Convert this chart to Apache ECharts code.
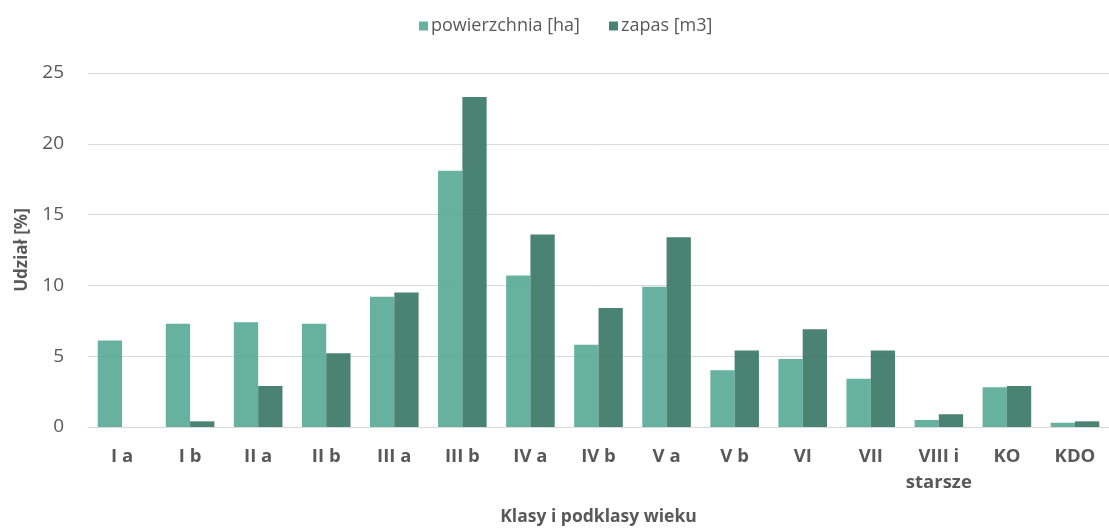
<!DOCTYPE html>
<html>
<head>
<meta charset="utf-8">
<script src="https://cdn.jsdelivr.net/npm/echarts@6/dist/echarts.min.js"></script>
<style>
  html, body { margin: 0; padding: 0; background: #fff; }
  #chart { width: 1109px; height: 531px; }
</style>
</head>
<body>
<div id="chart"></div>
<script>
  // klasy i podklasy wieku
  var categories = ['I a', 'I b', 'II a', 'II b', 'III a', 'III b', 'IV a', 'IV b', 'V a', 'V b', 'VI', 'VII', 'VIII i\nstarsze', 'KO', 'KDO'];
  var powierzchnia = [6.1, 7.3, 7.4, 7.3, 9.2, 18.1, 10.7, 5.8, 9.9, 4.0, 4.8, 3.4, 0.5, 2.8, 0.3];
  var zapas = [0, 0.4, 2.9, 5.2, 9.5, 23.3, 13.6, 8.4, 13.4, 5.4, 6.9, 5.4, 0.9, 2.9, 0.4];
  var yTicks = [0, 5, 10, 15, 20, 25];

  var font = '"Open Sans", sans-serif';
  var grey = '#595959';

  var chart = echarts.init(document.getElementById('chart'), null, { renderer: 'canvas' });

  var option = {
    animation: false,
    textStyle: { fontFamily: font },
    legend: {
      top: 12,
      left: 414,
      itemWidth: 9,
      itemHeight: 9,
      itemGap: 29,
      icon: 'rect',
      textStyle: { fontSize: 18, color: grey, fontFamily: font, padding: [0, 0, 0, -2] },
      data: ['powierzchnia [ha]', 'zapas [m3]']
    },
    grid: {
      left: 88,
      top: 73,
      width: 1029,
      height: 361
    },
    xAxis: {
      type: 'category',
      data: categories,
      name: 'Klasy i podklasy wieku',
      nameLocation: 'middle',
      nameGap: 81,
      nameTextStyle: { fontSize: 17.5, fontWeight: 'bold', color: grey, fontFamily: font },
      axisLine: { lineStyle: { color: '#d9d9d9', width: 1 } },
      axisTick: { show: false },
      axisLabel: {
        interval: 0,
        margin: 17,
        fontSize: 18.5,
        fontWeight: 'bold',
        color: grey,
        lineHeight: 26,
        fontFamily: font
      }
    },
    yAxis: {
      type: 'value',
      min: 0,
      max: 25,
      interval: 5,
      name: 'Udział [%]',
      nameLocation: 'middle',
      nameGap: 57,
      nameTextStyle: { fontSize: 17, fontWeight: 'bold', color: grey, fontFamily: font },
      axisLine: { show: false },
      axisTick: { show: false },
      splitLine: { lineStyle: { color: '#d9d9d9', width: 1 } },
      axisLabel: {
        margin: 24,
        fontSize: 19,
        color: grey,
        fontFamily: font,
        customValues: yTicks
      }
    },
    series: [
      {
        name: 'powierzchnia [ha]',
        type: 'bar',
        data: powierzchnia,
        barGap: '0%',
        barCategoryGap: '28.6%',
        itemStyle: { color: 'rgba(85,169,149,0.9)' }
      },
      {
        name: 'zapas [m3]',
        type: 'bar',
        data: zapas,
        barGap: '0%',
        barCategoryGap: '28.6%',
        itemStyle: { color: 'rgba(55,118,100,0.9)' }
      }
    ]
  };

  chart.setOption(option);
</script>
</body>
</html>
